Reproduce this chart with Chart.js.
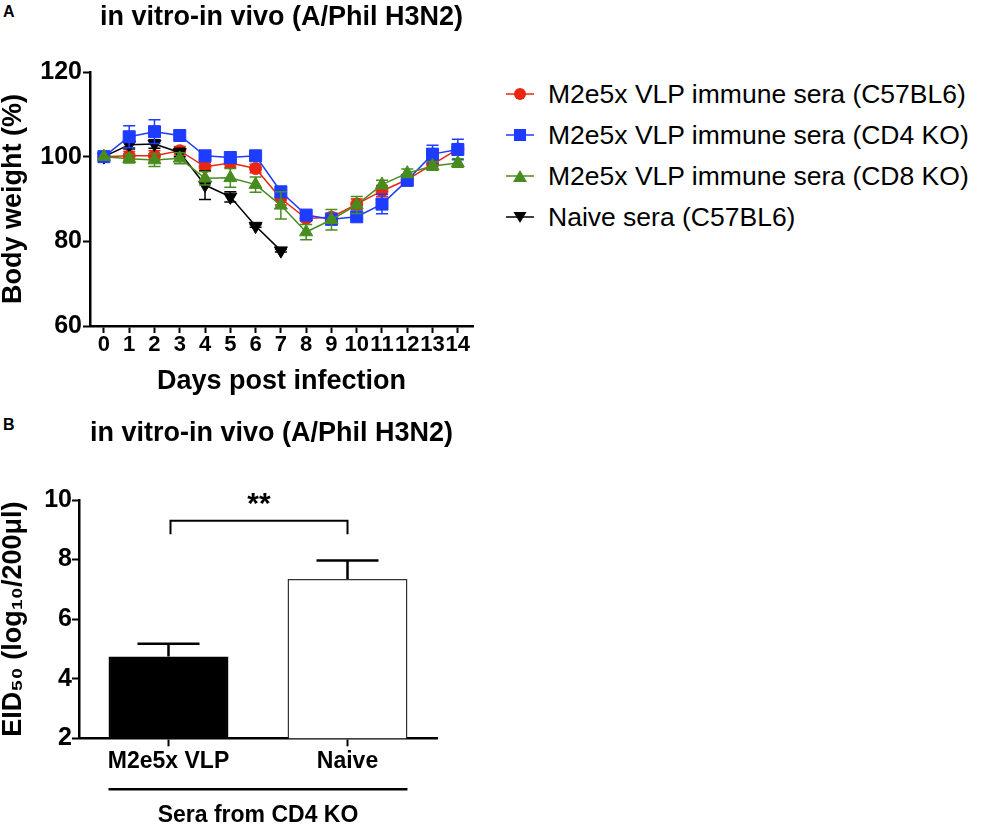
<!DOCTYPE html>
<html>
<head>
<meta charset="utf-8">
<script src="https://cdn.jsdelivr.net/npm/chart.js@4.4.1/dist/chart.umd.min.js"></script>
<style>
  body { margin: 0; background: #fff; width: 986px; height: 825px; position: relative; overflow: hidden;
         font-family: 'Liberation Sans', Arial, sans-serif; color: #000; }
  canvas { position: absolute; left: 0; }
  #weightChart { top: 0; }
  #titerChart { top: 400px; }
  .panel { position: absolute; left: 3px; font-weight: bold; font-size: 16px; line-height: 16px; }
  #legend { position: absolute; left: 506px; top: 0; }
  .item { position: absolute; left: 0; height: 30px; line-height: 30px; display: flex; align-items: center;
          font-size: 26.5px; white-space: nowrap; }
  .item svg { margin-right: 14px; flex: none; }
</style>
</head>
<body>
<div class="panel" style="top:4px">A</div>
<div class="panel" style="top:417px">B</div>
<canvas id="weightChart" width="490" height="400"></canvas>
<canvas id="titerChart" width="543" height="425"></canvas>
<div id="legend"></div>
<script>
// --- panel A : body weight (%) ---
const days = [0, 1, 2, 3, 4, 5, 6, 7, 8, 9, 10, 11, 12, 13, 14];
const weightTicks = [60, 80, 100, 120];

const c57Weight = [100, 100.2, 100.2, 101.4, 97.6, 98.5, 97.2, 90.1, 85.4, 85.7, 88.8, 91.9, 94.6, 98.2, 101.8];
const c57Sem    = [0, 1.0, 1.2, 1.0, 1.0, 1.0, 1.0, 1.5, 0.6, 1.0, 1.2, 1.3, 1.0, 1.0, 1.0];

const cd4Weight = [100, 104.7, 105.9, 105.0, 100.2, 99.8, 100.2, 91.7, 86.2, 85.2, 85.8, 88.8, 94.4, 100.6, 101.7];
const cd4Sem    = [0, 2.6, 2.8, 1.0, 0.5, 0.5, 0.5, 1.2, 0.6, 0.6, 0.6, 2.3, 1.0, 2.1, 2.4];

const cd8Weight = [100, 99.5, 99.2, 99.6, 94.9, 95.0, 93.4, 88.5, 82.2, 85.1, 88.6, 93.4, 96.1, 97.8, 98.5];
const cd8Sem    = [0, 1.0, 1.5, 1.3, 1.6, 2.2, 1.8, 3.2, 1.8, 2.4, 2.0, 1.0, 1.0, 1.0, 1.0];

const naiveWeight = [100, 102.8, 103.0, 101.0, 93.3, 90.5, 83.6, 77.8];
const naiveSem    = [0, 1.0, 1.0, 1.0, 3.4, 1.2, 0.3, 0.3];

// --- panel B : lung viral titer ---
const groups = ['M2e5x VLP', 'Naive'];
const titerMean = [4.75, 7.35];
const titerSem = [0.42, 0.62];
const titerTicks = [2, 4, 6, 8, 10];
const sigLevel = 9.3;   // bracket height (log10)
const sigDrop = 0.45;
const sigLabel = '**';

const RED = '#e82612';
const BLUE = '#1e3cff';
const GREEN = '#488c20';
const BLACK = '#000000';

Chart.defaults.font.family = "'Liberation Sans', Arial, sans-serif";
Chart.defaults.color = '#000';

const boldFont = (size, lh) => ({ size: size, weight: 'bold', lineHeight: lh || 1 });

// mean +/- SEM whiskers for the line chart
const semBars = {
    id: 'semBars',
    beforeDatasetDraw(chart, args) {
        const ds = chart.data.datasets[args.index];
        if (!ds.sem) return;
        const ctx = chart.ctx;
        const y = chart.scales.y;
        ctx.save();
        ctx.strokeStyle = ds.borderColor;
        ctx.lineWidth = 1.5;
        args.meta.data.forEach((pt, i) => {
            const err = ds.sem[i];
            if (!err) return;
            const top = y.getPixelForValue(ds.data[i] + err);
            const bot = y.getPixelForValue(ds.data[i] - err);
            ctx.beginPath();
            ctx.moveTo(pt.x, top); ctx.lineTo(pt.x, bot);
            ctx.moveTo(pt.x - 6, top); ctx.lineTo(pt.x + 6, top);
            ctx.moveTo(pt.x - 6, bot); ctx.lineTo(pt.x + 6, bot);
            ctx.stroke();
        });
        ctx.restore();
    }
};

const weightChart = new Chart(document.getElementById('weightChart'), {
    type: 'line',
    data: {
        labels: days,
        datasets: [
            { label: 'M2e5x VLP immune sera (C57BL6)', data: c57Weight, sem: c57Sem,
              borderColor: RED, backgroundColor: RED, pointStyle: 'circle', pointRadius: 6, order: 4 },
            { label: 'M2e5x VLP immune sera (CD4 KO)', data: cd4Weight, sem: cd4Sem,
              borderColor: BLUE, backgroundColor: BLUE, pointStyle: 'rect', pointRadius: 8.5, order: 2 },
            { label: 'M2e5x VLP immune sera (CD8 KO)', data: cd8Weight, sem: cd8Sem,
              borderColor: GREEN, backgroundColor: GREEN, pointStyle: 'triangle', pointRadius: 7.5, order: 1 },
            { label: 'Naive sera (C57BL6)', data: naiveWeight, sem: naiveSem,
              borderColor: BLACK, backgroundColor: BLACK, pointStyle: 'triangle', pointRotation: 180, pointRadius: 7.5, order: 3 }
        ].map(d => Object.assign({ borderWidth: 1.5, pointBorderWidth: 1, tension: 0, clip: false }, d))
    },
    options: {
        responsive: false,
        animation: false,
        layout: { padding: { left: 0, right: 17, top: 0, bottom: 0 } },
        plugins: {
            legend: { display: false },
            tooltip: { enabled: false },
            title: { display: true, text: 'in vitro-in vivo (A/Phil H3N2)', fullSize: false,
                     font: boldFont(27), padding: { top: 4, bottom: 41 } }
        },
        scales: {
            x: {
                type: 'linear', min: -0.55, max: 14.6,
                afterBuildTicks: s => { s.ticks = days.map(v => ({ value: v })); },
                afterFit: s => { s.height = 74; },
                ticks: { font: boldFont(22), padding: 1, autoSkip: false, maxRotation: 0 },
                grid: { drawOnChartArea: false, tickLength: 7, tickWidth: 2, color: '#000' },
                border: { color: '#000', width: 2.5 },
                title: { display: true, text: 'Days post infection', font: boldFont(27), padding: { top: 0, bottom: 4.5 } }
            },
            y: {
                min: 60, max: 120,
                afterBuildTicks: s => { s.ticks = weightTicks.map(v => ({ value: v })); },
                afterFit: s => { s.width = 90; },
                ticks: { font: boldFont(25), padding: 1 },
                grid: { drawOnChartArea: false, tickLength: 7, tickWidth: 2, color: '#000' },
                border: { color: '#000', width: 2.5 },
                title: { display: true, text: 'Body weight (%)', font: boldFont(27), padding: 0 }
            }
        }
    },
    plugins: [semBars]
});

// html legend built from the datasets
function markerSvg(ds) {
    const c = ds.borderColor;
    let shape;
    if (ds.pointStyle === 'circle') shape = `<circle cx="14" cy="8" r="6" fill="${c}"/>`;
    else if (ds.pointStyle === 'rect') shape = `<rect x="8" y="2" width="12" height="12" fill="${c}"/>`;
    else if (ds.pointRotation === 180) shape = `<polygon points="7.5,3 20.5,3 14,14" fill="${c}"/>`;
    else shape = `<polygon points="14,2 21,14 7,14" fill="${c}"/>`;
    return `<svg width="28" height="16" viewBox="0 0 28 16"><line x1="0" y1="8" x2="28" y2="8" stroke="${c}" stroke-width="1.5"/>${shape}</svg>`;
}
const legendBox = document.getElementById('legend');
weightChart.data.datasets.forEach((ds, i) => {
    const row = document.createElement('div');
    row.className = 'item';
    row.style.top = (79 + i * 41) + 'px';
    row.innerHTML = markerSvg(ds) + '<span>' + ds.label + '</span>';
    legendBox.appendChild(row);
});

// --- panel B plugins ---
const barSem = {
    id: 'barSem',
    afterDatasetsDraw(chart) {
        const ds = chart.data.datasets[0];
        const ctx = chart.ctx;
        const y = chart.scales.y;
        ctx.save();
        ctx.strokeStyle = '#000';
        ctx.lineWidth = 2.5;
        chart.getDatasetMeta(0).data.forEach((bar, i) => {
            const tip = y.getPixelForValue(ds.data[i] + ds.sem[i]);
            ctx.beginPath();
            ctx.moveTo(bar.x, bar.y); ctx.lineTo(bar.x, tip);
            ctx.moveTo(bar.x - 31, tip); ctx.lineTo(bar.x + 31, tip);
            ctx.stroke();
        });
        ctx.restore();
    }
};

const sigBracket = {
    id: 'sigBracket',
    afterDraw(chart) {
        const { ctx, scales: { x, y } } = chart;
        const x0 = x.getPixelForValue(0) + 2, x1 = x.getPixelForValue(groups.length - 1);
        const top = y.getPixelForValue(sigLevel), foot = y.getPixelForValue(sigLevel - sigDrop);
        ctx.save();
        ctx.strokeStyle = '#000';
        ctx.lineWidth = 2;
        ctx.beginPath();
        ctx.moveTo(x0, foot); ctx.lineTo(x0, top); ctx.lineTo(x1, top); ctx.lineTo(x1, foot);
        ctx.stroke();
        ctx.fillStyle = '#000';
        ctx.font = "bold 30px 'Liberation Sans', Arial, sans-serif";
        ctx.textAlign = 'center';
        ctx.textBaseline = 'alphabetic';
        ctx.fillText(sigLabel, (x0 + x1) / 2, top - 8);
        ctx.restore();
    }
};

const seraLine = {
    id: 'seraLine',
    afterDraw(chart) {
        const bars = chart.getDatasetMeta(0).data;
        const left = bars[0].x - bars[0].width / 2;
        const right = bars[bars.length - 1].x + bars[bars.length - 1].width / 2;
        const yLine = chart.chartArea.bottom + 51;
        const ctx = chart.ctx;
        ctx.save();
        ctx.strokeStyle = '#000';
        ctx.lineWidth = 2.5;
        ctx.beginPath();
        ctx.moveTo(left, yLine); ctx.lineTo(right, yLine);
        ctx.stroke();
        ctx.restore();
    }
};

new Chart(document.getElementById('titerChart'), {
    type: 'bar',
    data: {
        labels: groups,
        datasets: [{
            data: titerMean,
            sem: titerSem,
            backgroundColor: ['#000000', '#ffffff'],
            borderColor: ['#000000', '#333333'],
            borderWidth: 1.5,
            borderSkipped: false,
            barPercentage: 0.67,
            categoryPercentage: 1
        }]
    },
    options: {
        responsive: false,
        animation: false,
        layout: { padding: 0 },
        plugins: {
            legend: { display: false },
            tooltip: { enabled: false },
            title: { display: true, text: 'in vitro-in vivo (A/Phil H3N2)', font: boldFont(27),
                     padding: { top: 20.5, bottom: 52.5 } }
        },
        scales: {
            x: {
                afterFit: s => { s.height = 86.7; },
                ticks: { font: boldFont(23, 1.2), padding: 2 },
                grid: { offset: false, drawOnChartArea: false, tickLength: 8, tickWidth: 2, color: '#000' },
                border: { color: '#000', width: 2.5 },
                title: { display: true, text: 'Sera from CD4 KO', font: boldFont(23, 0.8), padding: 0 }
            },
            y: {
                min: 2, max: 10,
                afterBuildTicks: s => { s.ticks = titerTicks.map(v => ({ value: v })); },
                afterFit: s => { s.width = 79; },
                ticks: { font: boldFont(25), padding: 0 },
                grid: { drawOnChartArea: false, tickLength: 7, tickWidth: 2, color: '#000' },
                border: { color: '#000', width: 2.5 },
                title: { display: true, text: 'EID₅₀ (log₁₀/200μl)', font: boldFont(27), padding: 0 }
            },
            // empty spacer on the right so the chart title centres over the whole panel
            spacer: {
                type: 'linear', position: 'right', display: true,
                afterFit: s => { s.width = 106; },
                grid: { display: false },
                border: { display: false },
                ticks: { display: false }
            }
        }
    },
    plugins: [barSem, sigBracket, seraLine]
});
</script>
</body>
</html>
